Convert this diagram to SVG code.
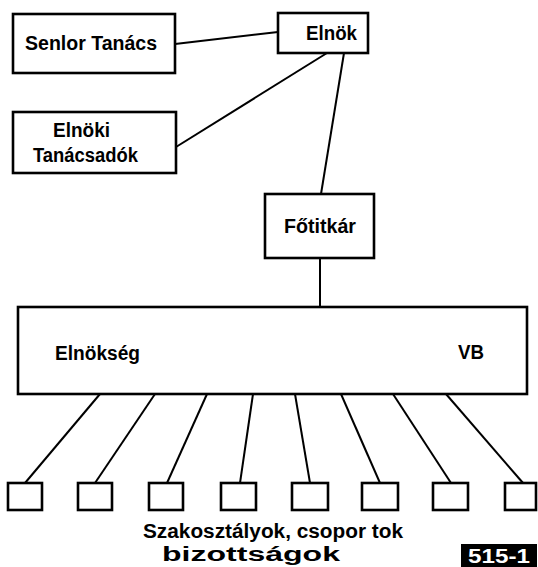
<svg xmlns="http://www.w3.org/2000/svg" width="538" height="567" viewBox="0 0 538 567">
<style>
.box{fill:#fff;stroke:#000;stroke-width:2.6}
.sbox{fill:#fff;stroke:#000;stroke-width:2.6}
.ln{stroke:#000;stroke-width:2;fill:none}
text{font-family:"Liberation Sans",Arial,sans-serif;font-weight:bold;fill:#000;font-size:20px}
</style>
<rect width="538" height="567" fill="#fff"/>
<g id="connectors">
<line class="ln" x1="175" y1="44" x2="278" y2="32"/>
<line class="ln" x1="176" y1="147" x2="327" y2="53"/>
<line class="ln" x1="344" y1="53" x2="321" y2="194"/>
<line class="ln" x1="320" y1="258" x2="320" y2="307"/>
<line class="ln" x1="100" y1="394" x2="25" y2="483"/>
<line class="ln" x1="155" y1="394" x2="95" y2="483"/>
<line class="ln" x1="207" y1="394" x2="167" y2="483"/>
<line class="ln" x1="253" y1="394" x2="240" y2="483"/>
<line class="ln" x1="295" y1="394" x2="310" y2="483"/>
<line class="ln" x1="341" y1="394" x2="380" y2="483"/>
<line class="ln" x1="393" y1="394" x2="451" y2="483"/>
<line class="ln" x1="446" y1="394" x2="523" y2="483"/>
</g>
<g id="senior">
<rect class="box" x="13" y="14" width="162" height="59"/>
<text x="25" y="50" textLength="132" lengthAdjust="spacingAndGlyphs">Senlor Tanács</text>
</g>
<g id="elnok">
<rect class="box" x="278" y="13" width="90" height="40"/>
<text x="306" y="40" textLength="51" lengthAdjust="spacingAndGlyphs">Elnök</text>
</g>
<g id="tanacsadok">
<rect class="box" x="13" y="112" width="163" height="61"/>
<text x="53" y="137" textLength="57" lengthAdjust="spacingAndGlyphs">Elnöki</text>
<text x="33" y="162" textLength="105" lengthAdjust="spacingAndGlyphs">Tanácsadók</text>
</g>
<g id="fotitkar">
<rect class="box" x="265" y="194" width="109" height="64"/>
<text x="284" y="233" textLength="72" lengthAdjust="spacingAndGlyphs">Főtitkár</text>
</g>
<g id="elnokseg">
<rect class="box" x="18" y="307" width="509" height="87"/>
<text x="55" y="360" textLength="85" lengthAdjust="spacingAndGlyphs">Elnökség</text>
<text x="458" y="359" textLength="26" lengthAdjust="spacingAndGlyphs">VB</text>
</g>
<g id="sub1"><rect class="sbox" x="8" y="483" width="34" height="27"/></g>
<g id="sub2"><rect class="sbox" x="78" y="483" width="34" height="27"/></g>
<g id="sub3"><rect class="sbox" x="149" y="483" width="34" height="27"/></g>
<g id="sub4"><rect class="sbox" x="221" y="483" width="35" height="27"/></g>
<g id="sub5"><rect class="sbox" x="292" y="483" width="36" height="27"/></g>
<g id="sub6"><rect class="sbox" x="362" y="483" width="36" height="27"/></g>
<g id="sub7"><rect class="sbox" x="433" y="483" width="35" height="27"/></g>
<g id="sub8"><rect class="sbox" x="505" y="483" width="31" height="27"/></g>
<g id="caption">
<text x="143" y="538" textLength="260" lengthAdjust="spacingAndGlyphs">Szakosztályok,  csopor tok</text>
<text x="162" y="561" textLength="178" lengthAdjust="spacingAndGlyphs">bizottságok</text>
</g>
<g id="stamp">
<rect x="461" y="544" width="76" height="23" fill="#000"/>
<text x="499" y="563" text-anchor="middle" style="fill:#fff" textLength="62" lengthAdjust="spacingAndGlyphs">515-1</text>
</g>
</svg>
